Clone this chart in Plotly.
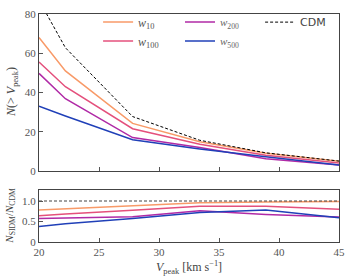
import plotly.graph_objects as go
from plotly.subplots import make_subplots

vpeak = [20, 22.2, 27.8, 33.4, 38.9, 45]
n_cdm = [87, 62.8, 27.7, 15.6, 9.2, 5.0]
n_w10 = [68, 51, 24.2, 14.9, 9.0, 4.95]
n_w100 = [55.5, 42.9, 21.5, 13.6, 8.0, 4.0]
n_w200 = [49.7, 36.8, 17.0, 11.9, 6.2, 3.05]
n_w500 = [33, 28, 15.9, 11.2, 7.2, 2.95]

names = ["<i>w</i><sub>10</sub>", "<i>w</i><sub>100</sub>", "<i>w</i><sub>200</sub>", "<i>w</i><sub>500</sub>"]
series = [n_w10, n_w100, n_w200, n_w500]
colors = ["#f89a68", "#e4507c", "#b02aa6", "#2040b8"]
legends = ["legend", "legend", "legend2", "legend2"]

SERIF = "Liberation Serif, DejaVu Serif, serif"

fig = make_subplots(rows=2, cols=1, shared_xaxes=False, vertical_spacing=0.0)

for nm, s, c, lg in zip(names, series, colors, legends):
    fig.add_trace(go.Scatter(x=vpeak, y=s, mode="lines", name=nm, legend=lg,
                             line=dict(color=c, width=1.5)), row=1, col=1)
fig.add_trace(go.Scatter(x=vpeak, y=n_cdm, mode="lines", name="CDM", legend="legend3",
                         line=dict(color="black", width=1, dash="3px,2px")), row=1, col=1)

for nm, s, c in zip(names, series, colors):
    ratio = [a / b for a, b in zip(s, n_cdm)]
    fig.add_trace(go.Scatter(x=vpeak, y=ratio, mode="lines", showlegend=False,
                             line=dict(color=c, width=1.5)), row=2, col=1)
fig.add_trace(go.Scatter(x=vpeak, y=[a / b for a, b in zip(n_cdm, n_cdm)], mode="lines",
                         showlegend=False,
                         line=dict(color="#444444", width=1.2, dash="3px,2px")), row=2, col=1)

tickfont = dict(family=SERIF, size=11, color="#555555")
axcommon = dict(showgrid=False, zeroline=False, showline=True, mirror=True,
                linecolor="#444444", linewidth=1.2, ticks="inside", ticklen=4,
                tickcolor="#555555", tickfont=tickfont, automargin=False)

fig.update_xaxes(range=[20, 45], tickvals=[20, 25, 30, 35, 40, 45], **axcommon)
fig.update_xaxes(showticklabels=False, row=1, col=1)
fig.update_yaxes(range=[0, 80], tickvals=[0, 20, 40, 60, 80], row=1, col=1, **axcommon)
fig.update_yaxes(range=[0, 1.26], tickvals=[0, 0.5, 1.0], ticktext=["0", "0.5", "1.0"],
                 row=2, col=1, **axcommon)

titlefont = dict(family=SERIF, size=12, color="#444444")
fig.add_annotation(text="<i>V</i><sub>peak</sub> [km s<sup>−1</sup>]", xref="paper", yref="paper",
                   x=0.5, y=-0.11, xanchor="center", yanchor="middle", showarrow=False,
                   font=titlefont)
fig.add_annotation(text="<i>N</i>(> <i>V</i><sub>peak</sub>)", xref="paper", yref="paper",
                   x=-0.09, y=0.658, xanchor="center", yanchor="middle", showarrow=False,
                   textangle=-90, font=titlefont)
fig.add_annotation(text="<i>N</i><sub>SIDM</sub>/<i>N</i><sub>CDM</sub>", xref="paper", yref="paper",
                   x=-0.097, y=0.115, xanchor="center", yanchor="middle", showarrow=False,
                   textangle=-90, font=dict(family=SERIF, size=11, color="#444444"))

fig.update_layout(
    width=350, height=280,
    margin=dict(l=39, r=11, t=8, b=38),
    plot_bgcolor="white", paper_bgcolor="white",
    yaxis=dict(domain=[0.312, 1.0]),
    yaxis2=dict(domain=[0.0, 0.2265]),
    legend=dict(x=0.197, y=1.028, xanchor="left", yanchor="top", bgcolor="rgba(0,0,0,0)",
                font=dict(family=SERIF, size=12, color="#555555"),
                tracegroupgap=0, itemwidth=30),
    legend2=dict(x=0.47, y=1.028, xanchor="left", yanchor="top", bgcolor="rgba(0,0,0,0)",
                 font=dict(family=SERIF, size=11, color="#666666"),
                 tracegroupgap=0, itemwidth=30),
    legend3=dict(x=0.737, y=1.028, xanchor="left", yanchor="top", bgcolor="rgba(0,0,0,0)",
                 font=dict(family="DejaVu Sans, sans-serif", size=11, color="#444444"),
                 itemwidth=30),
)

fig.write_html("out.html", config={"displayModeBar": False},
               post_script="document.body.style.margin='0';")
